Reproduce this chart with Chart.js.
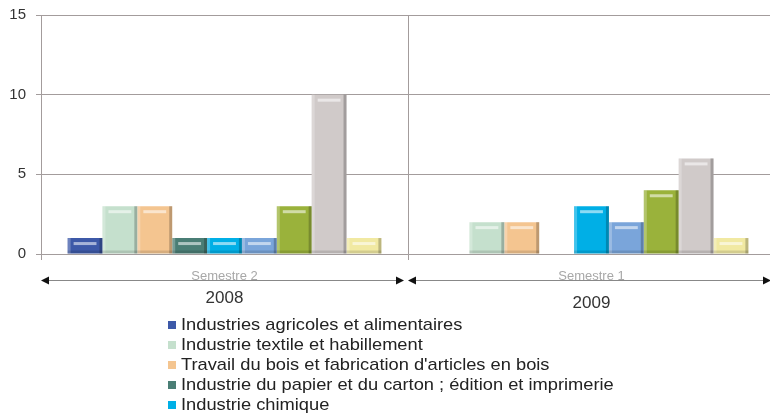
<!DOCTYPE html>
<html>
<head>
<meta charset="utf-8">
<script src="https://cdn.jsdelivr.net/npm/chart.js@4"></script>
<style>
  html, body { margin: 0; padding: 0; background: #fff; overflow: hidden; }
  #wrap { width: 780px; height: 417px; }
</style>
</head>
<body>
<div id="wrap"><canvas id="chart" width="780" height="417"></canvas></div>
<script>
"use strict"

// kategorier (semestre) och år under dem
const categories = ['Semestre 2', 'Semestre 1'];
const years = ['2008', '2009'];

// serier - namnen syns bara för de fem första i bilden
const seriesNames = [
  'Industries agricoles et alimentaires',
  'Industrie textile et habillement',
  "Travail du bois et fabrication d'articles en bois",
  'Industrie du papier et du carton ; édition et imprimerie',
  'Industrie chimique'
];

// värden per serie [Semestre 2 2008, Semestre 1 2009]
const agricoles = [1, 0];
const textile = [3, 2];
const bois = [3, 2];
const papier = [1, 0];
const chimique = [1, 3];
const serie6 = [1, 2];
const serie7 = [3, 4];
const serie8 = [10, 6];
const serie9 = [1, 1];

const yTicks = [0, 5, 10, 15];

const seriesValues = [agricoles, textile, bois, papier, chimique, serie6, serie7, serie8, serie9];
const colors = ['#3d59a8', '#c5e0cd', '#f4c590', '#4a7e75', '#00afe6', '#7aa5da', '#9ab23b', '#d0cac9', '#f1e9a2'];

const FONT = '"Liberation Sans", Arial, sans-serif';
const GRID = '#a39c9c';

// lite "3D"-kant på staplarna
const bevel = {
  id: 'bevel',
  afterDatasetsDraw(chart) {
    const ctx = chart.ctx;
    chart.data.datasets.forEach((ds, i) => {
      chart.getDatasetMeta(i).data.forEach(bar => {
        const p = bar.getProps(['x', 'y', 'base', 'width'], true);
        const h = p.base - p.y;
        if (h < 1) return;
        const l = p.x - p.width / 2, r = p.x + p.width / 2;
        ctx.save();
        ctx.fillStyle = 'rgba(255,255,255,0.25)';
        ctx.fillRect(l, p.y, 3, h);
        ctx.fillStyle = 'rgba(0,0,0,0.22)';
        ctx.fillRect(r - 3, p.y, 3, h);
        ctx.fillStyle = 'rgba(0,0,0,0.12)';
        ctx.fillRect(l, p.base - 3, p.width, 3);
        ctx.fillStyle = 'rgba(255,255,255,0.55)';
        ctx.fillRect(l + 6, p.y + 4, p.width - 12, 3);
        ctx.restore();
      });
    });
  }
};

// semestre, pilar, år och förklaring under diagrammet
const bottomTexts = {
  id: 'bottomTexts',
  afterDraw(chart) {
    const ctx = chart.ctx;
    const x = chart.scales.x;
    const half = (x.getPixelForValue(1) - x.getPixelForValue(0)) / 2;
    ctx.save();
    categories.forEach((cat, i) => {
      const cx = x.getPixelForValue(i);
      const l = cx - half, r = cx + half - 4;
      const ly = 280;
      ctx.strokeStyle = '#888';
      ctx.lineWidth = 1;
      ctx.beginPath();
      ctx.moveTo(l + 6, ly + 0.5);
      ctx.lineTo(r - 6, ly + 0.5);
      ctx.stroke();
      ctx.fillStyle = '#111';
      ctx.beginPath();
      ctx.moveTo(l, ly + 0.5); ctx.lineTo(l + 8, ly - 3.5); ctx.lineTo(l + 8, ly + 4.5); ctx.closePath();
      ctx.fill();
      ctx.beginPath();
      ctx.moveTo(r, ly + 0.5); ctx.lineTo(r - 8, ly - 3.5); ctx.lineTo(r - 8, ly + 4.5); ctx.closePath();
      ctx.fill();

      ctx.fillStyle = '#a8a8a8';
      ctx.font = '13px ' + FONT;
      ctx.textAlign = 'center';
      ctx.textBaseline = 'middle';
      ctx.fillText(cat, cx, 276);

      ctx.fillStyle = '#333';
      ctx.font = '17px ' + FONT;
      ctx.fillText(years[i], cx, i === 0 ? 298 : 303);
    });

    // förklaring, en rad per serie (texten är lite utdragen i bredd)
    ctx.textAlign = 'left';
    ctx.textBaseline = 'middle';
    ctx.font = '17px ' + FONT;
    seriesNames.forEach((name, i) => {
      const y = 325 + i * 20;
      ctx.fillStyle = colors[i];
      ctx.fillRect(168, y - 4, 8, 8);
      ctx.save();
      ctx.translate(181, y);
      ctx.scale(1.075, 1);
      ctx.fillStyle = '#222';
      ctx.fillText(name, 0, 0);
      ctx.restore();
    });
    ctx.restore();
  }
};

new Chart(document.getElementById('chart'), {
  type: 'bar',
  data: {
    labels: categories,
    datasets: seriesValues.map((vals, i) => ({
      label: seriesNames[i] || '',
      data: vals,
      backgroundColor: colors[i],
      borderWidth: 0,
      categoryPercentage: 0.855,
      barPercentage: 1.0
    }))
  },
  options: {
    responsive: false,
    animation: false,
    layout: { padding: { top: 15, right: 5, left: 0, bottom: 0 } },
    plugins: {
      legend: { display: false },
      tooltip: { enabled: false }
    },
    scales: {
      x: {
        ticks: { display: false },
        grid: { color: GRID, tickLength: 6, offset: true },
        border: { color: GRID },
        afterFit(s) { s.height = 163; }
      },
      y: {
        min: 0,
        max: 15,
        afterBuildTicks(s) { s.ticks = yTicks.map(v => ({ value: v })); },
        ticks: { color: '#333', font: { family: FONT, size: 15 }, padding: 10 },
        grid: { color: GRID, tickLength: 5 },
        border: { color: GRID },
        afterFit(s) { s.width = 41; s.paddingTop = 0; s.paddingBottom = 0; }
      }
    }
  },
  plugins: [bevel, bottomTexts]
});
</script>
</body>
</html>
